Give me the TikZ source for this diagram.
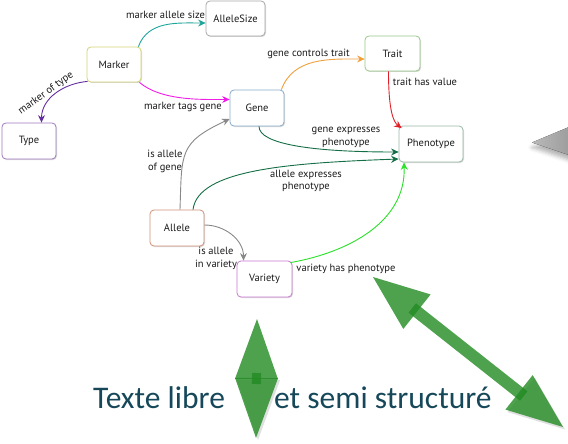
\documentclass[tikz,border=0pt]{standalone}
\usepackage{fontspec}
\setmainfont{PT Sans}
\newfontfamily\titlefont{Carlito}
\usetikzlibrary{arrows.meta,calc,shadows,shadows.blur}

% edge colours
\definecolor{cTeal}{RGB}{30,165,155}
\definecolor{cMagenta}{RGB}{240,30,230}
\definecolor{cPurple}{RGB}{100,45,160}
\definecolor{cOrange}{RGB}{240,160,60}
\definecolor{cRed}{RGB}{225,30,40}
\definecolor{cDkGreen}{RGB}{20,110,70}
\definecolor{cGray}{RGB}{136,136,136}
\definecolor{cBright}{RGB}{40,225,40}
% box borders
\definecolor{bAllele}{RGB}{208,144,120}
\definecolor{bMarker}{RGB}{212,212,120}
\definecolor{bType}{RGB}{160,120,192}
\definecolor{bGene}{RGB}{136,170,200}
\definecolor{bTrait}{RGB}{152,200,136}
\definecolor{bPheno}{RGB}{152,184,168}
\definecolor{bVariety}{RGB}{200,120,208}
\definecolor{bSize}{RGB}{168,168,168}
% big arrows and caption
\definecolor{bigGreen}{RGB}{34,139,34}
\definecolor{cTitle}{RGB}{22,72,90}

\begin{document}
\begin{tikzpicture}[x=1pt,y=1pt,
  concept/.style={draw, rounded corners=4pt, fill=white, line width=0.8pt,
    minimum height=35pt, text=black!90, inner sep=2pt,
    font=\fontsize{10.5}{12}\selectfont,
    drop shadow={shadow xshift=1pt,shadow yshift=-1pt,opacity=.3}},
  link/.style={line width=0.9pt, -{Stealth[length=7.5pt,width=7pt,inset=2.5pt]}},
  lbl/.style={font=\fontsize{10.5}{12.8}\selectfont, text=black!90, inner sep=0pt, align=center},
  bighead/.style={fill=bigGreen, opacity=.8},
  bigshaft/.style={draw=bigGreen, opacity=.8},
  headshadow/.style={fill=black, opacity=.12},
  caption/.style={font=\titlefont\fontsize{31.5}{36}\selectfont, text=cTitle, inner sep=0pt, anchor=base west}
]
\useasboundingbox (0,0) rectangle (568,-444);

% concept boxes
\node[concept, draw=bSize,    minimum width=59pt] (AlleleSize) at (235.5,-18.5) {AlleleSize};
\node[concept, draw=bMarker,  minimum width=54pt] (Marker)     at (114,-64.5)   {Marker};
\node[concept, draw=bType,    minimum width=54pt, minimum height=36pt] (Type) at (29,-141) {Type};
\node[concept, draw=bGene,    minimum width=54pt, minimum height=36pt] (Gene) at (257,-108) {Gene};
\node[concept, draw=bTrait,   minimum width=55pt] (Trait)      at (392.5,-53.5) {Trait};
\node[concept, draw=bPheno,   minimum width=64pt, minimum height=36pt] (Phenotype) at (431,-144) {Phenotype};
\node[concept, draw=bAllele,  minimum width=54pt, minimum height=36pt] (Allele) at (177,-228) {Allele};
\node[concept, draw=bVariety, minimum width=55pt, minimum height=36pt] (Variety) at (264.5,-279) {Variety};

% relations
\draw[link, cTeal] ([xshift=-3pt]Marker.north east) to[out=70,in=180] ([yshift=-4.5pt]AlleleSize.west);
\draw[link, cMagenta] ([xshift=-2pt]Marker.south east) to[out=-40,in=180,looseness=0.8] ([yshift=8.5pt]Gene.west);
\draw[link, cPurple] ([xshift=1pt,yshift=1pt]Marker.south west) to[out=185,in=90] ([xshift=12.5pt]Type.north);
\draw[link, cOrange] ([xshift=-3pt]Gene.north east) to[out=70,in=180] ([yshift=-5.5pt]Trait.west);
\draw[link, cRed] ([xshift=-4pt]Trait.south) .. controls +(0,-40) and +(-8,6) .. ([xshift=3pt,yshift=-2.5pt]Phenotype.north west);
\draw[link, cDkGreen] ([xshift=2pt]Gene.south) .. controls +(0,-18) and +(-85,0) .. ([yshift=-8pt]Phenotype.west);
\draw[link, cDkGreen] ([xshift=16pt]Allele.north) .. controls +(5,40) and +(-110,-4) .. ([yshift=-15pt]Phenotype.west);
\draw[link, cGray] ([xshift=3pt]Allele.north) to[out=88,in=205,looseness=1.4] ([yshift=-11pt]Gene.west);
\draw[link, cGray] ([yshift=3pt]Allele.east) to[out=0,in=90] ([xshift=-21pt]Variety.north);
\draw[link, cBright] ([xshift=-2pt,yshift=-2pt]Variety.north east) to[out=10,in=-88] ([xshift=-27pt]Phenotype.south);

% relation labels
\node[lbl] (lSize)    at (165.5,-15)  {marker allele size};
\node[lbl] (lTags)    at (183,-107)   {marker tags gene};
\node[lbl, rotate=36] (lType) at (46,-93) {marker of type};
\node[lbl] (lCtrl)    at (308.5,-53.5) {gene controls trait};
\node[lbl] (lValue)   at (425,-82)    {trait has value};
\node[lbl] (lGeneExp) at (346,-137.5) {gene expresses\\phenotype};
\node[lbl] (lAllExp)  at (306,-181)   {allele expresses\\phenotype};
\node[lbl] (lOfGene)  at (165,-161)   {is allele\\of gene};
\node[lbl] (lInVar)   at (216,-258.5) {is allele\\in variety};
\node[lbl] (lVarPh)   at (346,-268.5) {variety has phenotype};

% grey arrow head at the right margin
\fill[left color=gray!55, right color=gray!80,
      blur shadow={shadow xshift=0pt,shadow yshift=-5pt,shadow blur radius=4pt,shadow opacity=30}]
  (532,-142.5) -- (575,-124.5) -- (575,-157) -- cycle;

% caption
\node[caption] (capA) at (93,-408)  {Texte libre};
\node[caption] (capB) at (274,-408) {et semi structuré};

% vertical double arrow
\coordinate (vA) at (257,-319);
\coordinate (vB) at (256,-438);
\coordinate (vA0) at ($(vA)!60pt!(vB)$);
\coordinate (vB0) at ($(vB)!60pt!(vA)$);
\fill[headshadow] ([shift={(2pt,-2pt)}]vB) -- ([shift={(2pt,-2pt)}]$(vB0)!21.5pt!90:(vB)$) -- ([shift={(2pt,-2pt)}]$(vB0)!21.5pt!-90:(vB)$) -- cycle;
\fill[bighead] (vA) -- ($(vA0)!21.5pt!90:(vA)$) -- ($(vA0)!21.5pt!-90:(vA)$) -- cycle;
\fill[bighead] (vB) -- ($(vB0)!21.5pt!90:(vB)$) -- ($(vB0)!21.5pt!-90:(vB)$) -- cycle;
\draw[bigshaft, line width=9pt] ($(vA)!54pt!(vB)$) -- ($(vB)!54pt!(vA)$);

% diagonal double arrow
\coordinate (dA) at (373,-277);
\coordinate (dB) at (563,-427);
\coordinate (dA0) at ($(dA)!56pt!(dB)$);
\coordinate (dB0) at ($(dB)!56pt!(dA)$);
\fill[headshadow] ([shift={(2pt,-2.5pt)}]dB) -- ([shift={(2pt,-2.5pt)}]$(dB0)!22pt!90:(dB)$) -- ([shift={(2pt,-2.5pt)}]$(dB0)!22pt!-90:(dB)$) -- cycle;
\fill[bighead] (dA) -- ($(dA0)!22pt!90:(dA)$) -- ($(dA0)!22pt!-90:(dA)$) -- cycle;
\fill[bighead] (dB) -- ($(dB0)!22pt!90:(dB)$) -- ($(dB0)!22pt!-90:(dB)$) -- cycle;
\draw[bigshaft, line width=12pt] ($(dA)!50pt!(dB)$) -- ($(dB)!50pt!(dA)$);
\end{tikzpicture}
\end{document}
